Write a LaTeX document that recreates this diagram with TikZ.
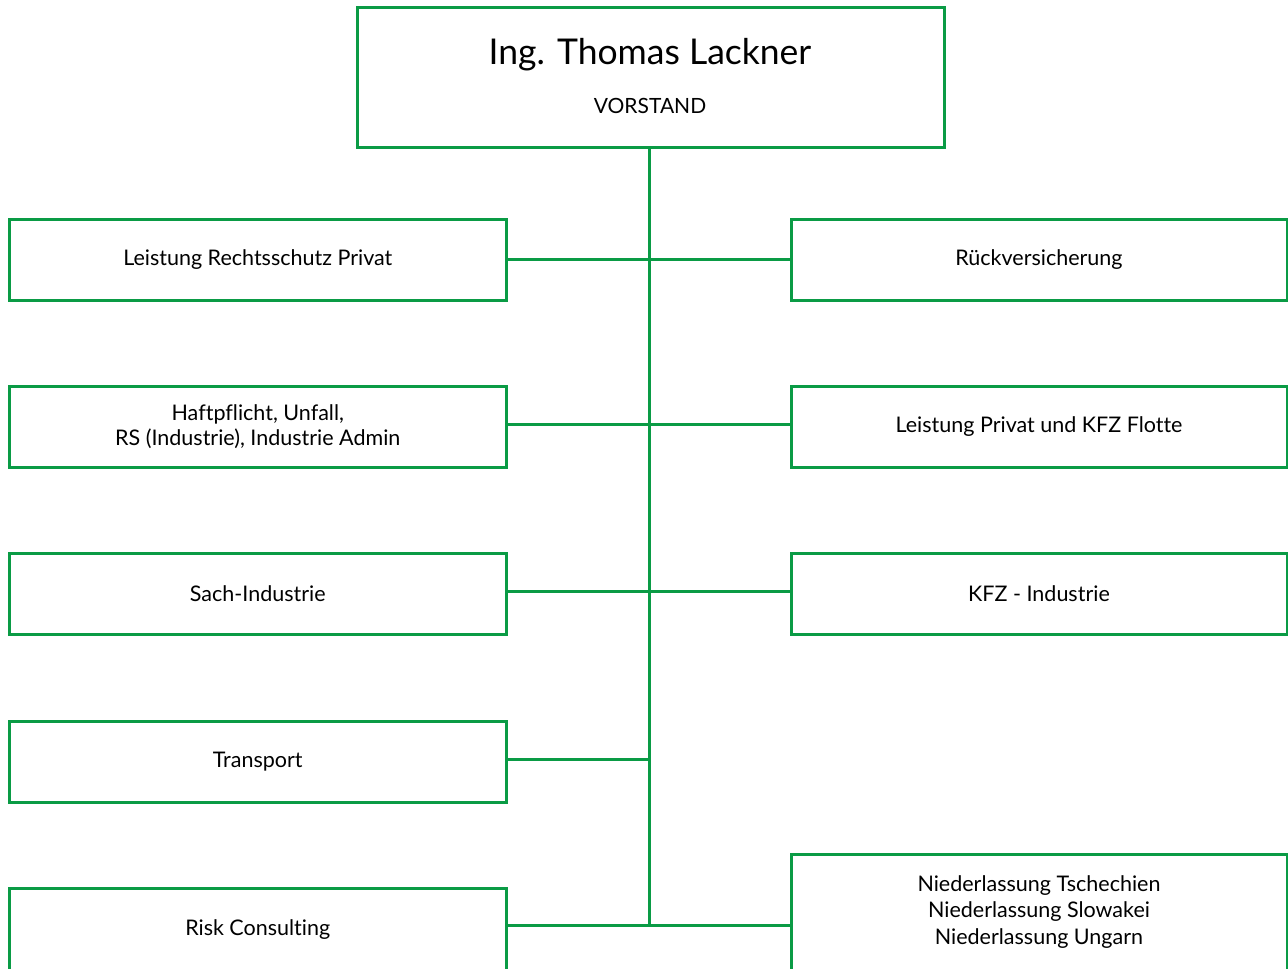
\documentclass[tikz,border=0pt]{standalone}
\usepackage{fontspec}
\setmainfont{Lato}[Ligatures=NoCommon]
\definecolor{orgGreen}{HTML}{0A9B45}
\begin{document}
\begin{tikzpicture}[x=1pt,y=-1pt,
  box/.style={draw=orgGreen, line width=3pt, fill=white, align=center, inner sep=0pt,
    font=\fontsize{21.5}{25}\selectfont, text=black},
  lbox/.style={box, minimum width=496.5pt, minimum height=81pt},
  rbox/.style={box, minimum width=496pt, minimum height=81pt},
  link/.style={draw=orgGreen, line width=3pt}]
\useasboundingbox (0,0) rectangle (1288,969);
\clip (0,0) rectangle (1288,969);
% junction coordinates
\coordinate (j1) at (649,259);
\coordinate (j2) at (649,424);
\coordinate (j3) at (649,591);
\coordinate (j4) at (649,759);
\coordinate (j5) at (649,925);
% top
\node[box, minimum width=587pt, minimum height=140pt] (top) at (650.5,77) {};
\node[font=\fontsize{35.5}{40}\selectfont, inner sep=0pt] (name) at (650,55) {Ing. Thomas Lackner};
\node[font=\fontsize{21}{25}\selectfont, inner sep=0pt] (role) at (650,105.5) {VORSTAND};
% trunk
\draw[link] (j5 |- top.south) -- (j5);
% left boxes
\node[lbox] (l1) at (257.75,259.5) {Leistung Rechtsschutz Privat};
\node[lbox] (l2) at (257.75,426.5) {Haftpflicht, Unfall,\\RS (Industrie), Industrie Admin};
\node[lbox] (l3) at (257.75,594) {Sach-Industrie};
\node[lbox] (l4) at (257.75,761.5) {Transport};
\node[lbox, minimum height=84pt] (l5) at (257.75,930) {Risk Consulting};
% right boxes
\node[rbox] (r1) at (1039,259.5) {Rückversicherung};
\node[rbox] (r2) at (1039,426.5) {Leistung Privat und KFZ Flotte};
\node[rbox] (r3) at (1039,594) {KFZ - Industrie};
\node[rbox, minimum height=116pt, font=\fontsize{21.5}{26.5}\selectfont] (r5) at (1039,912) {Niederlassung Tschechien\\Niederlassung Slowakei\\Niederlassung Ungarn};
% branches
\draw[link] (j1 -| l1.east) -- (j1 -| r1.west);
\draw[link] (j2 -| l2.east) -- (j2 -| r2.west);
\draw[link] (j3 -| l3.east) -- (j3 -| r3.west);
\draw[link] (j4 -| l4.east) -- (j4);
\draw[link] (j5 -| l5.east) -- (j5 -| r5.west);
\end{tikzpicture}
\end{document}
